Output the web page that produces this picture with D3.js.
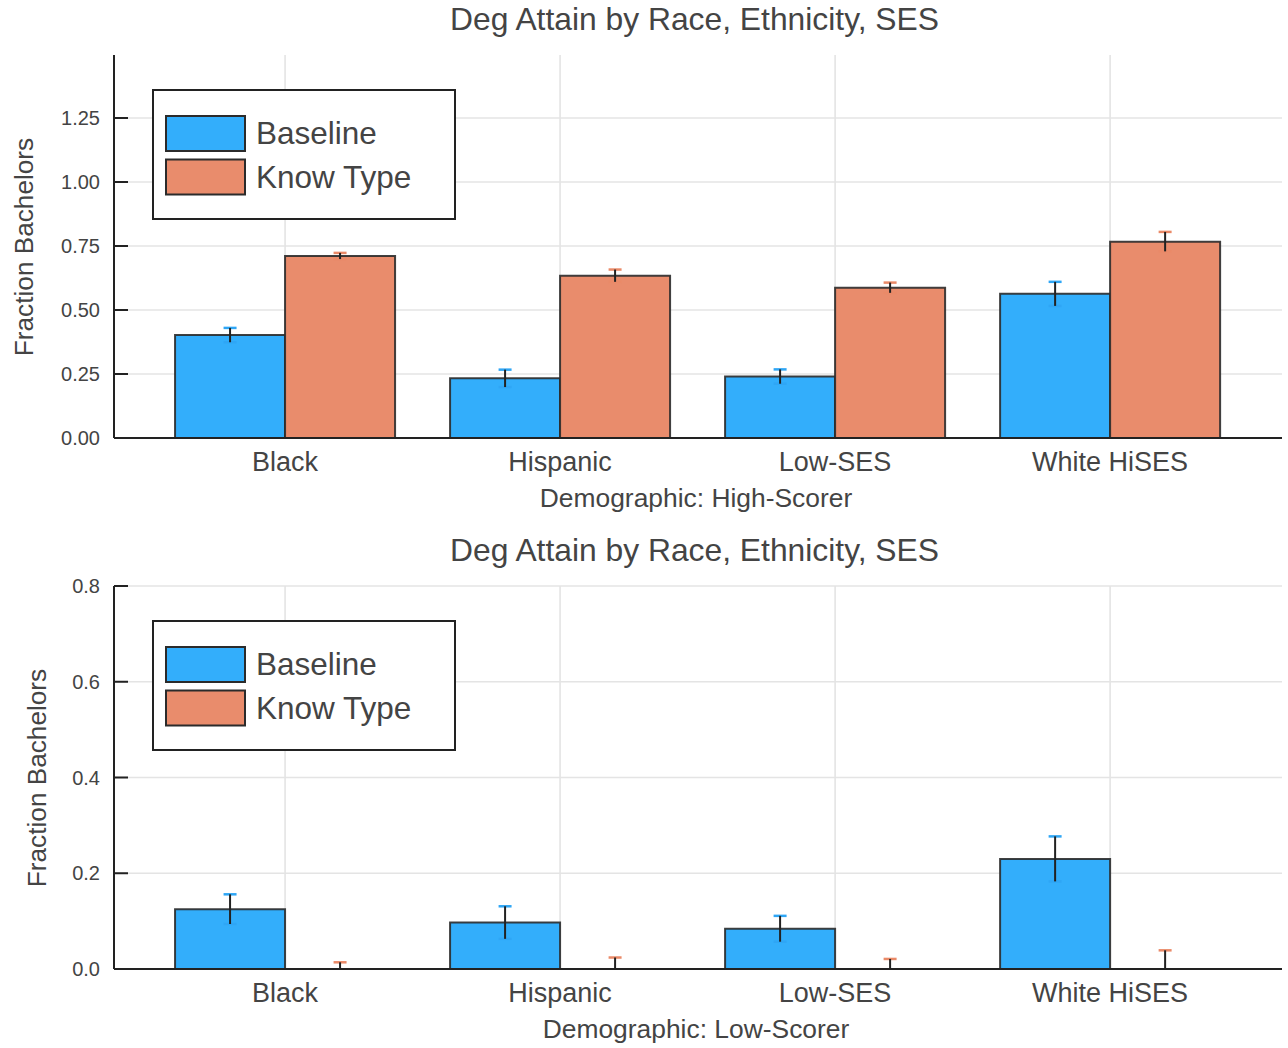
<!DOCTYPE html>
<html>
<head>
<meta charset="utf-8">
<script src="https://cdn.jsdelivr.net/npm/d3@7"></script>
<style>
  html, body { margin: 0; padding: 0; background: #fff; }
  svg { display: block; font-family: "Liberation Sans", Arial, sans-serif; }
</style>
</head>
<body>
<svg id="chart" width="1288" height="1048"></svg>
<script>
// ---------- data ----------
const categories = ["Black", "Hispanic", "Low-SES", "White HiSES"];
const seriesNames = ["Baseline", "Know Type"];
const chartTitle = "Deg Attain by Race, Ethnicity, SES";
const yLabel = "Fraction Bachelors";

// High-scorer panel
const highBaseline    = [0.402, 0.233, 0.240, 0.563];
const highBaselineErr = [0.028, 0.034, 0.028, 0.047];
const highKnowType    = [0.711, 0.634, 0.587, 0.767];
const highKnowTypeErr = [0.012, 0.024, 0.020, 0.038];
const highTicks       = [0, 0.25, 0.5, 0.75, 1.0, 1.25];
const highTickLabels  = ["0.00", "0.25", "0.50", "0.75", "1.00", "1.25"];

// Low-scorer panel
const lowBaseline     = [0.125, 0.097, 0.084, 0.230];
const lowBaselineErr  = [0.031, 0.034, 0.027, 0.047];
const lowKnowType     = [0.0, 0.0, 0.0, 0.0];
const lowKnowTypeErr  = [0.014, 0.024, 0.021, 0.039];
const lowTicks        = [0, 0.2, 0.4, 0.6, 0.8];
const lowTickLabels   = ["0.0", "0.2", "0.4", "0.6", "0.8"];

// ---------- styling ----------
const fills = ["#33AEFB", "#E98C6C"];
const capColors = ["#2fa6f5", "#ea8a68"];
const textColor = "#444";
const svg = d3.select("#chart");

function drawPanel(cfg) {
  const g = svg.append("g").attr("transform", `translate(0,${cfg.offsetY})`);
  const left = 114, right = 1282, top = 55, bottom = 438;

  const x = d3.scaleLinear().domain([-0.622, 3.625]).range([left, right]);
  const y = d3.scaleLinear().domain(cfg.yDomain).range([bottom, top]);
  const barW = 0.4;

  const clipId = "clip" + cfg.id;
  g.append("clipPath").attr("id", clipId)
    .append("rect").attr("x", left).attr("y", top - 2)
    .attr("width", right - left).attr("height", bottom - top + 2);

  // grid
  g.append("g").selectAll("line.hg").data(cfg.ticks.filter(t => t > 0)).join("line")
    .attr("x1", left).attr("x2", right)
    .attr("y1", d => y(d)).attr("y2", d => y(d))
    .attr("stroke", "#e4e4e4").attr("stroke-width", 1.6);
  g.append("g").selectAll("line.vg").data(d3.range(categories.length)).join("line")
    .attr("x1", d => x(d)).attr("x2", d => x(d))
    .attr("y1", top).attr("y2", bottom)
    .attr("stroke", "#e4e4e4").attr("stroke-width", 1.6);

  // bars
  const series = [
    { vals: cfg.s1, errs: cfg.e1, off: -barW, i: 0 },
    { vals: cfg.s2, errs: cfg.e2, off: 0, i: 1 }
  ];
  const plot = g.append("g").attr("clip-path", `url(#${clipId})`);
  series.forEach(s => {
    plot.append("g").selectAll("path").data(s.vals).join("path")
      .attr("d", (v, j) => {
        const x0 = x(j + s.off), x1 = x(j + s.off + barW);
        const y0 = y(0), y1 = y(v);
        return `M${x0},${y0}L${x0},${y1}L${x1},${y1}L${x1},${y0}Z`;
      })
      .attr("fill", fills[s.i])
      .attr("stroke", "#2b2b2b").attr("stroke-opacity", 0.9)
      .attr("stroke-width", 2);
  });
  // error bars
  series.forEach(s => {
    const eg = plot.append("g");
    s.vals.forEach((v, j) => {
      const cx = x(j + s.off + barW / 2);
      const yt = y(v + s.errs[j]), yb = y(v - s.errs[j]);
      eg.append("line").attr("x1", cx - 6.5).attr("x2", cx + 6.5)
        .attr("y1", yt).attr("y2", yt)
        .attr("stroke", capColors[s.i]).attr("stroke-width", 2.5);
      eg.append("line").attr("x1", cx - 6.5).attr("x2", cx + 6.5)
        .attr("y1", yb).attr("y2", yb)
        .attr("stroke", capColors[s.i]).attr("stroke-width", 2.5);
      eg.append("line").attr("x1", cx).attr("x2", cx)
        .attr("y1", yt).attr("y2", yb)
        .attr("stroke", "#222").attr("stroke-width", 2);
    });
  });

  // axes lines
  g.append("line").attr("x1", left).attr("x2", left).attr("y1", top).attr("y2", bottom)
    .attr("stroke", "#222").attr("stroke-width", 2);
  g.append("line").attr("x1", left).attr("x2", right).attr("y1", bottom).attr("y2", bottom)
    .attr("stroke", "#222").attr("stroke-width", 2);

  // y ticks
  g.append("g").selectAll("line").data(cfg.ticks).join("line")
    .attr("x1", left).attr("x2", left + 14)
    .attr("y1", d => y(d)).attr("y2", d => y(d))
    .attr("stroke", "#222").attr("stroke-width", 2);
  g.append("g").selectAll("text").data(cfg.ticks).join("text")
    .attr("x", 100).attr("y", d => y(d)).attr("dy", "0.36em")
    .attr("text-anchor", "end").attr("font-size", 20).attr("fill", textColor)
    .text((d, i) => cfg.tickLabels[i]);

  // x category labels
  g.append("g").selectAll("text").data(categories).join("text")
    .attr("x", (d, i) => x(i)).attr("y", 471)
    .attr("text-anchor", "middle").attr("font-size", 27).attr("fill", textColor)
    .text(d => d);

  // x label
  g.append("text").attr("x", 696).attr("y", 507)
    .attr("text-anchor", "middle").attr("font-size", 26.4).attr("fill", textColor)
    .text(cfg.xLabel);

  // y label
  g.append("text")
    .attr("transform", `translate(${cfg.yLabelX},247) rotate(-90)`)
    .attr("text-anchor", "middle").attr("dominant-baseline", "central")
    .attr("font-size", 26.2).attr("fill", textColor)
    .text(yLabel);

  // title
  g.append("text").attr("x", 694.5).attr("y", 30)
    .attr("text-anchor", "middle").attr("font-size", 31.8).attr("fill", textColor)
    .text(chartTitle);

  // legend
  const lg = g.append("g");
  lg.append("rect").attr("x", 153).attr("y", 90).attr("width", 302).attr("height", 129)
    .attr("fill", "#fff").attr("stroke", "#222").attr("stroke-width", 2);
  seriesNames.forEach((name, i) => {
    lg.append("rect").attr("x", 166).attr("y", 116 + i * 43.5).attr("width", 79).attr("height", 35)
      .attr("fill", fills[i]).attr("stroke", "#2b2b2b").attr("stroke-width", 2);
    lg.append("text").attr("x", 256).attr("y", 144 + i * 43.5)
      .attr("font-size", 31.5).attr("fill", textColor).text(name);
  });
}

drawPanel({ id: "a", offsetY: 0, yDomain: [0, 1.496], ticks: highTicks, tickLabels: highTickLabels,
  s1: highBaseline, e1: highBaselineErr, s2: highKnowType, e2: highKnowTypeErr,
  xLabel: "Demographic: High-Scorer", yLabelX: 24 });
drawPanel({ id: "b", offsetY: 531, yDomain: [0, 0.8], ticks: lowTicks, tickLabels: lowTickLabels,
  s1: lowBaseline, e1: lowBaselineErr, s2: lowKnowType, e2: lowKnowTypeErr,
  xLabel: "Demographic: Low-Scorer", yLabelX: 37 });
</script>
</body>
</html>
